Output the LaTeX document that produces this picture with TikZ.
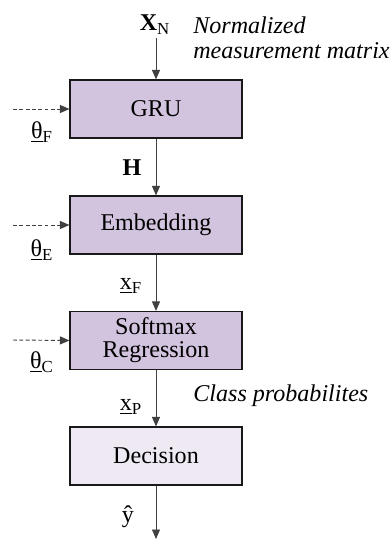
\documentclass[tikz,border=0pt]{standalone}
\usepackage{fontspec}
\setmainfont{Liberation Serif}
\usetikzlibrary{arrows.meta}

\definecolor{blockfill}{HTML}{D2C4DE}
\definecolor{decfill}{HTML}{EFE9F3}

\begin{document}
\begin{tikzpicture}[x=0.02cm, y=-0.02cm,
    font=\fontsize{13.7}{14.2}\selectfont,
    block/.style={shape=rectangle, draw=black!90, line width=0.65pt, minimum width=3.44cm, minimum height=1.16cm, inner sep=1pt, align=center},
    flow/.style={-{Triangle[length=0.19cm, width=0.16cm]}, draw=black!75, line width=0.55pt},
    param/.style={flow, dash pattern=on 2.2pt off 1.4pt},
    lbl/.style={inner sep=0pt}]
  \useasboundingbox (0,0) rectangle (390,540);

  \node [block, fill=blockfill] (gru) at (156,109) {GRU};
  \node [block, fill=blockfill] (emb) at (156,225) {Embedding};
  \node [block, fill=blockfill] (smr) at (156,340.5) {Softmax\\[-1pt]Regression};
  \node [block, fill=decfill] (dec) at (156,456) {Decision};

  \coordinate (in) at (156,38);
  \coordinate (out) at (156,539);
  \coordinate (pf) at (13,109);
  \coordinate (pe) at (13,225);
  \coordinate (pc) at (13,340);

  \node [lbl] (xn) at (155,25) {\textbf{X}\textsubscript{N}};
  \node [lbl, anchor=west, align=left, font=\fontsize{13.7}{14.2}\selectfont\itshape] (xntext) at (193,37.5) {Normalized\\measurement matrix};
  \node [lbl] (h) at (132,168) {\textbf{H}};
  \node [lbl] (xf) at (131,286) {\underline{x}\textsubscript{F}};
  \node [lbl] (xp) at (131,407) {\underline{x}\textsubscript{P}};
  \node [lbl, anchor=west, font=\fontsize{13.7}{14.2}\selectfont\itshape] (xptext) at (193,396) {Class probabilites};
  \node [lbl] (yhat) at (128,517) {ŷ};

  \node [lbl] (tf) at (42,132) {\underline{θ}\textsubscript{F}};
  \node [lbl] (te) at (42,250) {\underline{θ}\textsubscript{E}};
  \node [lbl] (tc) at (42,362) {\underline{θ}\textsubscript{C}};

  \draw [flow] (in) -- (gru);
  \draw [flow] (gru) -- (emb);
  \draw [flow] (emb) -- (smr);
  \draw [flow] (smr) -- (dec);
  \draw [flow] (dec) -- (out);

  \draw [param] (pf) -- (gru.west);
  \draw [param] (pe) -- (emb.west);
  \draw [param] (pc) -- (smr.west);
\end{tikzpicture}
\end{document}
